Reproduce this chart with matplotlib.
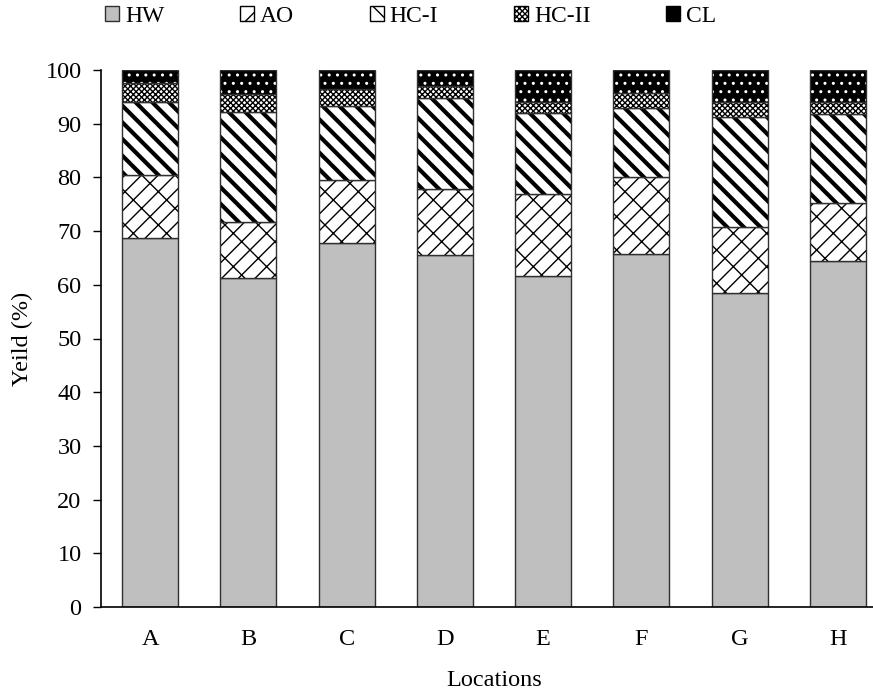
import matplotlib
matplotlib.use("Agg")
import matplotlib.pyplot as plt
from matplotlib.patches import Patch
import numpy as np

locations = ["A", "B", "C", "D", "E", "F", "G", "H"]
series_names = ["HW", "AO", "HC-I", "HC-II", "CL"]
HW = [68.8, 61.2, 67.8, 65.5, 61.6, 65.7, 58.5, 64.5]
AO = [11.7, 10.5, 11.7, 12.3, 15.4, 14.4, 12.2, 10.8]
HC_I = [13.5, 20.5, 13.8, 16.9, 15.0, 12.9, 20.5, 16.5]
HC_II = [3.5, 3.3, 3.2, 2.3, 2.0, 2.8, 2.8, 2.2]
CL = [2.5, 4.5, 3.5, 3.0, 6.0, 4.2, 6.0, 6.0]
yticks = list(range(0, 101, 10))

plt.rcParams['font.family'] = ['Liberation Serif', 'DejaVu Serif']
plt.rcParams['font.size'] = 17.5

fig = plt.figure(figsize=(8.73, 6.93), dpi=100)
ax = fig.add_axes([101/873, 1-607/693, 786/873, 537/693])

x = np.arange(len(locations))
w = 0.57
edge = '#303030'

def set_hlw(patches, lw):
    for p in patches:
        if hasattr(p, 'set_hatch_linewidth'):
            p.set_hatch_linewidth(lw)

bottom = np.zeros(len(locations))

# HW
ax.bar(x, HW, w, bottom=bottom, color='#bfbfbf', edgecolor=edge, linewidth=1.0)
bottom += HW

# AO
plt.rcParams['hatch.linewidth'] = 1.0
b = ax.bar(x, AO, w, bottom=bottom, color='white', edgecolor='black', hatch='//\\', linewidth=0)
set_hlw(b, 1.0)
ax.bar(x, AO, w, bottom=bottom, color='none', edgecolor=edge, linewidth=1.0)
bottom += AO

# HC-I
plt.rcParams['hatch.linewidth'] = 3.0
b = ax.bar(x, HC_I, w, bottom=bottom, color='white', edgecolor='black', hatch='\\\\', linewidth=0)
set_hlw(b, 3.0)
ax.bar(x, HC_I, w, bottom=bottom, color='none', edgecolor=edge, linewidth=1.0)
bottom += HC_I

# HC-II
plt.rcParams['hatch.linewidth'] = 1.0
b = ax.bar(x, HC_II, w, bottom=bottom, color='white', edgecolor='black', hatch='xxxxxx', linewidth=0)
set_hlw(b, 1.0)
ax.bar(x, HC_II, w, bottom=bottom, color='none', edgecolor=edge, linewidth=1.0)
bottom += HC_II

# CL
b = ax.bar(x, CL, w, bottom=bottom, color='black', edgecolor='white', hatch='..', linewidth=0)
set_hlw(b, 1.0)
ax.bar(x, CL, w, bottom=bottom, color='none', edgecolor=edge, linewidth=1.0)
bottom += CL

ax.set_xlim(-0.5, 7.5)
ax.set_ylim(0, 100)
ax.set_yticks(yticks)
ax.set_xticks(x)
ax.set_xticklabels(locations)
ax.tick_params(axis='x', length=0, pad=16)
ax.tick_params(axis='y', direction='out', length=6, width=1, pad=8)
for s in ['top', 'right']:
    ax.spines[s].set_visible(False)
ax.spines['left'].set_linewidth(1.2)
ax.spines['bottom'].set_linewidth(1.2)
ax.set_ylabel('Yeild (%)')
ax.yaxis.set_label_coords(-68/786, 0.5)
ax.set_xlabel('Locations')
ax.xaxis.set_label_coords(0.5, -63/537)

# legend proxies
proxies = [
    Patch(facecolor='#bfbfbf', edgecolor=edge, linewidth=1.0),
    Patch(facecolor='white', edgecolor='black', hatch='/', linewidth=1.0),
    Patch(facecolor='white', edgecolor='black', hatch='\\', linewidth=1.0),
    Patch(facecolor='white', edgecolor='black', hatch='xxxxxx', linewidth=1.0),
    Patch(facecolor='black', edgecolor='black', linewidth=1.0),
]
leg = fig.legend(proxies, series_names, loc='center left', bbox_to_anchor=(105/873, 1-16/693),
                 ncol=5, frameon=False, handlelength=0.6, handleheight=0.6,
                 handletextpad=0.25, columnspacing=3.2, borderaxespad=0, borderpad=0,
                 fontsize=17)

fig.savefig('out.png', dpi=100)
